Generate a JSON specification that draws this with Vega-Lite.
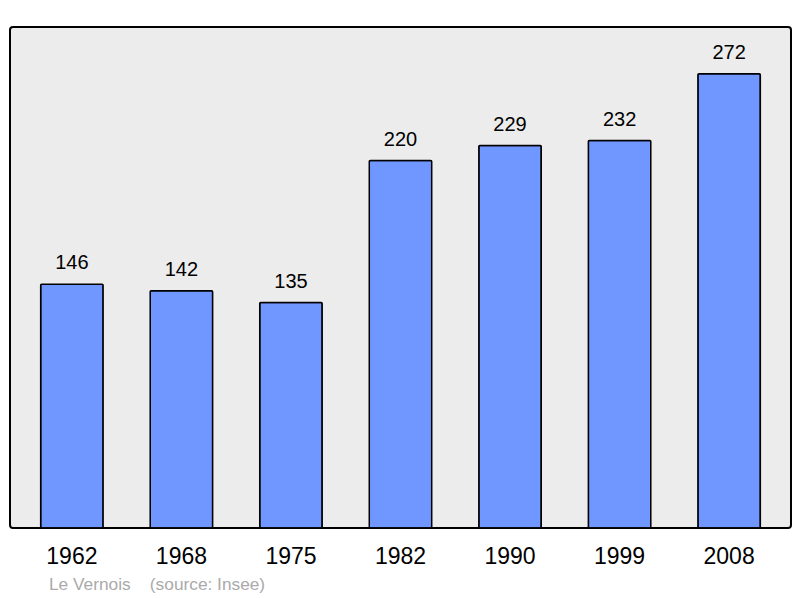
{
  "$schema": "https://vega.github.io/schema/vega-lite/v6.json",
  "width": 781,
  "height": 501,
  "autosize": "none",
  "padding": {"left": 10, "top": 27, "right": 9, "bottom": 70},
  "background": "white",
  "config": {
    "font": "Liberation Sans",
    "view": {"fill": "#ececec", "stroke": "#000000", "strokeWidth": 2, "cornerRadius": 3}
  },
  "title": {
    "text": "Le Vernois\u00a0\u00a0\u00a0\u00a0(source: Insee)",
    "orient": "bottom",
    "anchor": "start",
    "dx": 39,
    "offset": 8,
    "fontSize": 17.3,
    "fontWeight": "normal",
    "color": "#aaaaaa",
    "font": "Liberation Sans"
  },
  "data": {
    "values": [
      {"year": "1962", "pop": 146},
      {"year": "1968", "pop": 142},
      {"year": "1975", "pop": 135},
      {"year": "1982", "pop": 220},
      {"year": "1990", "pop": 229},
      {"year": "1999", "pop": 232},
      {"year": "2008", "pop": 272}
    ]
  },
  "encoding": {
    "x": {
      "field": "year",
      "type": "nominal",
      "sort": null,
      "scale": {"paddingInner": 0.43, "paddingOuter": 0.28},
      "axis": {
        "title": null,
        "domain": false,
        "ticks": false,
        "labelAngle": 0,
        "labelFontSize": 23,
        "labelColor": "#000000",
        "labelPadding": 17,
        "labelFont": "Liberation Sans"
      }
    },
    "y": {
      "field": "pop",
      "type": "quantitative",
      "scale": {"domain": [0, 300], "nice": false},
      "axis": null
    }
  },
  "layer": [
    {
      "mark": {"type": "bar", "fill": "#7097ff", "stroke": "#000000", "strokeWidth": 1.5, "cornerRadius": 1}
    },
    {
      "mark": {"type": "text", "baseline": "alphabetic", "dy": -15, "fontSize": 20, "color": "#000000", "font": "Liberation Sans"},
      "encoding": {"text": {"field": "pop", "type": "quantitative"}}
    }
  ]
}
